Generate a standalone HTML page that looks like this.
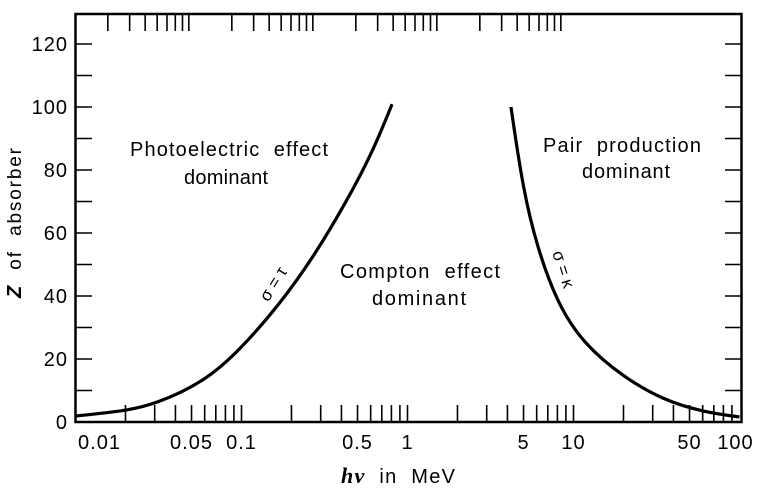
<!DOCTYPE html>
<html><head><meta charset="utf-8"><style>
html,body{margin:0;padding:0;background:#fff;}
svg{display:block;font-family:"Liberation Sans",sans-serif;}
text{white-space:pre;}
</style></head><body>
<svg id="chart" width="763" height="490" viewBox="0 0 763 490" xmlns="http://www.w3.org/2000/svg">
<rect x="75.5" y="14" width="666" height="408" fill="none" stroke="#000" stroke-width="2.5"/>
<g id="ticks"></g>
<g id="labels" font-size="20" letter-spacing="1" fill="#000"></g>
<g id="curves"></g>
<text transform="translate(21,298) rotate(-90)" font-size="19" textLength="150" lengthAdjust="spacing"><tspan font-style="italic" font-weight="bold" font-size="20">Z</tspan>  of  absorber</text>
<text x="341" y="483" font-size="20" textLength="114" lengthAdjust="spacing"><tspan font-family="Liberation Serif,serif" font-style="italic" font-weight="bold" font-size="22">hν</tspan>  in  MeV</text>
<text x="130" y="156" font-size="20" textLength="198" lengthAdjust="spacing">Photoelectric  effect</text>
<text x="184" y="184" font-size="20" textLength="84" lengthAdjust="spacing">dominant</text>
<text x="340" y="278" font-size="20" textLength="160" lengthAdjust="spacing">Compton  effect</text>
<text x="372" y="305" font-size="20" textLength="94" lengthAdjust="spacing">dominant</text>
<text x="543" y="152" font-size="20" textLength="158" lengthAdjust="spacing">Pair  production</text>
<text x="582" y="178" font-size="20" textLength="88" lengthAdjust="spacing">dominant</text>
<text transform="translate(278,287) rotate(-58)" text-anchor="middle" font-size="17">σ = τ</text>
<text transform="translate(558,271) rotate(72)" text-anchor="middle" font-size="17">σ = κ</text>
</svg>
<script>
const xTickLabels=["0.01","0.05","0.1","0.5","1","5","10","50","100"];
const xTickValues=[0.01,0.05,0.1,0.5,1,5,10,50,100];
const yTickValues=[0,20,40,60,80,100,120];
const photoE=[0.01,0.0199,0.0301,0.06,0.098,0.1706,0.2696,0.432,0.62,0.807];
const photoZ=[1.9,3.5,5.6,12.8,22.9,37.5,52.1,70.2,86.0,100.9];
const pairE=[4.2,4.97,6.03,7.96,11.4,19.9,34.6,60.3,100];
const pairZ=[100,73.7,55.6,37.8,25,14.3,7,3.2,1.6];
const NS="http://www.w3.org/2000/svg";
const xS=e=>75.5+(Math.log10(e)+2)*166;
const yS=z=>422-z*3.15;
const topX=v=>70.5+Math.log10(v)*124;
function mk(tag,attrs,parent){const el=document.createElementNS(NS,tag);for(const k in attrs)el.setAttribute(k,attrs[k]);parent.appendChild(el);return el;}
const ticks=document.getElementById('ticks'),labels=document.getElementById('labels'),curves=document.getElementById('curves');
for(let d=-2;d<2;d++){for(let m=1;m<=9;m++){const v=m*Math.pow(10,d);const x=xS(v);if(m===1&&d===-2)continue;
const t=mk('line',{x1:x,x2:x,y1:422,y2:405,stroke:'#000','stroke-width':1.6},ticks);

}}
for(let d=0;d<4;d++){for(let m=2;m<=9;m++){const x=topX(m*Math.pow(10,d));if(x>741)continue;
const t=mk('line',{x1:x,x2:x,y1:14,y2:31,stroke:'#000','stroke-width':1.6},ticks);

}}
for(let z=10;z<=120;z+=10){const y=yS(z);
const a=mk('line',{x1:75,x2:92,y1:y,y2:y,stroke:'#000','stroke-width':1.6},ticks);


const b=mk('line',{x1:725,x2:742,y1:y,y2:y,stroke:'#000','stroke-width':1.6},ticks);

}
xTickValues.forEach((v,i)=>{let x=xS(v);if(i===0)x+=24;if(i===xTickLabels.length-1)x-=4;
const t=mk('text',{x:x,y:449,'text-anchor':'middle'},labels);t.textContent=xTickLabels[i];

});
yTickValues.forEach(v=>{const t=mk('text',{x:68,y:yS(v)+7,'text-anchor':'end'},labels);t.textContent=String(v);

});
function curve(E,Z,name){
const p=E.map((e,i)=>[xS(e),yS(Z[i])]);
const q=[p[0],p[0]].concat(p,[p[p.length-1],p[p.length-1]]);
let d='';
for(let i=0;i+3<q.length;i++){const a=q[i],b=q[i+1],c=q[i+2],e=q[i+3];
const s=[(a[0]+4*b[0]+c[0])/6,(a[1]+4*b[1]+c[1])/6];
const c1=[(2*b[0]+c[0])/3,(2*b[1]+c[1])/3];
const c2=[(b[0]+2*c[0])/3,(b[1]+2*c[1])/3];
const en=[(b[0]+4*c[0]+e[0])/6,(b[1]+4*c[1]+e[1])/6];
if(i===0)d='M'+s[0]+','+s[1];
d+=' C'+c1[0]+','+c1[1]+' '+c2[0]+','+c2[1]+' '+en[0]+','+en[1];}
const path=mk('path',{d:d,fill:'none',stroke:'#000','stroke-width':3.2},curves);

}
curve(photoE,photoZ,'sigma-tau-curve');
curve(pairE,pairZ,'sigma-kappa-curve');
</script>
</body></html>
